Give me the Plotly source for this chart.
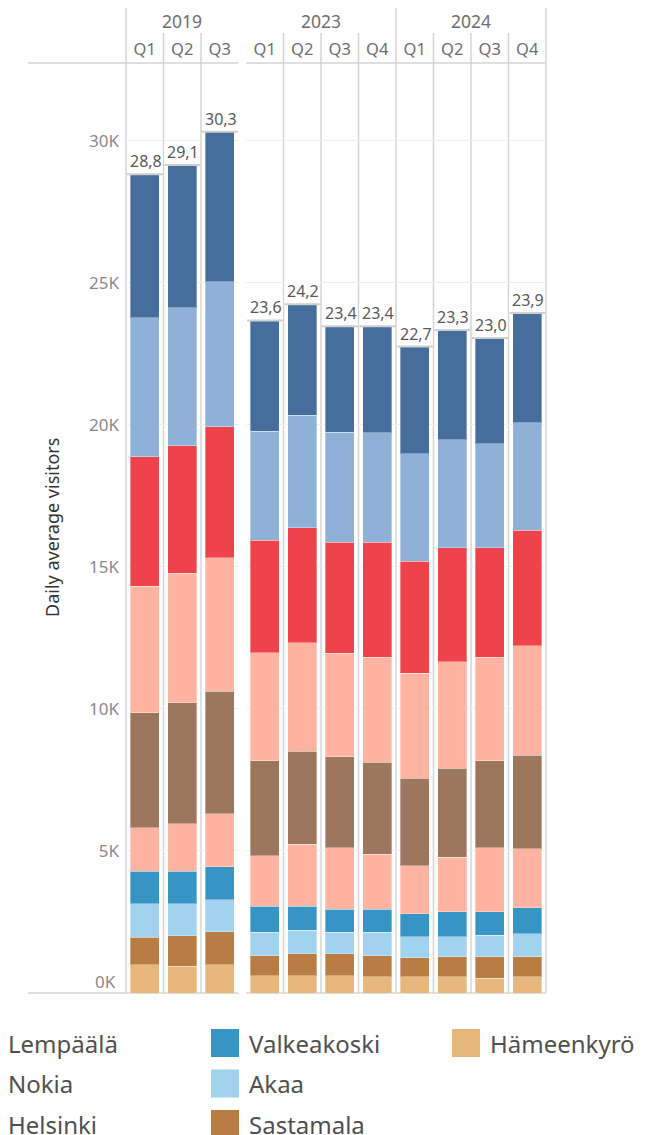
import plotly.graph_objects as go

# ---------------- data ----------------
period_year = ["2019", "2019", "2019", "2023", "2023", "2023", "2023", "2024", "2024", "2024", "2024"]
period_quarter = ["Q1", "Q2", "Q3", "Q1", "Q2", "Q3", "Q4", "Q1", "Q2", "Q3", "Q4"]
years = ["2019", "2023", "2024"]

# stacked from bottom to top (daily average visitors)
hameenkyro = [1003, 944, 1003, 616, 616, 616, 570, 570, 570, 521, 570]
sastamala = [962, 1070, 1162, 704, 764, 764, 750, 669, 715, 764, 715]
akaa = [1176, 1127, 1116, 821, 821, 761, 821, 750, 704, 750, 810]
valkeakoski = [1148, 1148, 1162, 905, 845, 810, 810, 810, 870, 824, 905]
helsinki = [1528, 1668, 1867, 1785, 2183, 2172, 1926, 1680, 1923, 2264, 2077]
nokia = [4049, 4261, 4306, 3345, 3285, 3194, 3250, 3084, 3133, 3053, 3296]
lempaala = [4457, 4553, 4707, 3802, 3816, 3647, 3696, 3697, 3757, 3647, 3852]
series_8 = [4557, 4506, 4613, 3955, 4060, 3909, 4050, 3944, 4003, 3852, 4060]
series_9 = [4894, 4849, 5105, 3848, 3955, 3873, 3852, 3781, 3803, 3662, 3802]
series_10 = [5056, 5024, 5279, 3899, 3905, 3734, 3755, 3775, 3862, 3723, 3853]

series_names = ["Hämeenkyrö", "Sastamala", "Akaa", "Valkeakoski", "Helsinki", "Nokia",
                "Lempäälä", "Ylöjärvi", "Kangasala", "Tampere"]
series_values = [hameenkyro, sastamala, akaa, valkeakoski, helsinki, nokia,
                 lempaala, series_8, series_9, series_10]

y_ticks = [0, 5000, 10000, 15000, 20000, 25000, 30000]
y_tick_labels = ["0K", "5K", "10K", "15K", "20K", "25K", "30K"]

# ---------------- styles ----------------
colors = ["#E8B77C", "#B97C42", "#A1D3EF", "#3795C5", "#FFB3A0", "#9C765D",
          "#FFB3A0", "#EF434B", "#8FB1D7", "#466E9C"]
FONT = "Noto Sans"
OFF = 8                      # page body margin
W, H = 646 - OFF, 1135 - OFF


def px_x(p):
    return (p - OFF) / W


def px_y(p):
    return 1 - (p - OFF) / H


pane_px = {"2019": (126, 238.5), "2023": (246, 396), "2024": (396, 546)}
axis_ids = {"2019": "x", "2023": "x2", "2024": "x3"}
PLOT_TOP, PLOT_BOTTOM = 63, 993
Y_MAX = 32745

fig = go.Figure()

for name, vals, col in zip(series_names, series_values, colors):
    for yr in years:
        idx = [i for i, y in enumerate(period_year) if y == yr]
        fig.add_trace(go.Bar(
            x=[period_quarter[i] for i in idx],
            y=[vals[i] for i in idx],
            name=name,
            xaxis=axis_ids[yr], yaxis="y",
            marker=dict(color=col, line=dict(color="rgba(255,255,255,0.35)", width=1)),
            showlegend=False,
            hovertemplate=name + " " + yr + " %{x}: %{y:,}<extra></extra>",
        ))

layout = dict(
    width=W, height=H,
    margin=dict(l=0, r=0, t=0, b=0),
    paper_bgcolor="white", plot_bgcolor="white",
    barmode="stack", bargap=0.23,
    font=dict(family=FONT, color="#666666"),
    showlegend=False,
    yaxis=dict(
        domain=[px_y(PLOT_BOTTOM), px_y(PLOT_TOP)],
        range=[0, Y_MAX], anchor="x",
        tickvals=y_ticks[1:], ticktext=y_tick_labels[1:],
        tickfont=dict(family=FONT, size=17, color="#8a8a8a"),
        showgrid=True, gridcolor="#efefef", gridwidth=1,
        zeroline=False, showline=False, ticks="",
        ticklabelstandoff=6, automargin=False, fixedrange=True,
    ),
)
for yr in years:
    a, b = pane_px[yr]
    key = "xaxis" if axis_ids[yr] == "x" else "xaxis" + axis_ids[yr][1:]
    layout[key] = dict(
        domain=[px_x(a), px_x(b)], anchor="y", type="category", side="top",
        showgrid=False, zeroline=False, showline=False, ticks="",
        tickfont=dict(family=FONT, size=16.5, color="#6e6e6e"),
        ticklabelstandoff=4, automargin=False, fixedrange=True,
    )
fig.update_layout(**layout)

shapes = []
annotations = []
LINE_C = "#d4d4d4"

# pane borders (header bottom and baseline)
for x0, x1 in [(28, 238.5), (246, 546)]:
    for yy in (PLOT_TOP, PLOT_BOTTOM):
        shapes.append(dict(type="line", xref="paper", yref="paper",
                           x0=px_x(x0), x1=px_x(x1), y0=px_y(yy), y1=px_y(yy),
                           line=dict(color=LINE_C, width=1.5), layer="below"))

# column dividers
for yr in years:
    a, b = pane_px[yr]
    n = period_year.count(yr)
    cw = (b - a) / n
    for i in range(n):
        if yr == "2023" and i == 0:
            continue
        top = OFF if i == 0 else 33
        xx = a + i * cw
        shapes.append(dict(type="line", xref="paper", yref="paper",
                           x0=px_x(xx), x1=px_x(xx), y0=px_y(top), y1=px_y(PLOT_BOTTOM),
                           line=dict(color=LINE_C, width=1.5), layer="below"))
    if yr == "2024":
        shapes.append(dict(type="line", xref="paper", yref="paper",
                           x0=px_x(b), x1=px_x(b), y0=px_y(OFF), y1=px_y(PLOT_BOTTOM),
                           line=dict(color=LINE_C, width=1.5), layer="below"))
    # year header
    annotations.append(dict(text=yr, xref=axis_ids[yr] + " domain", x=0.5, xanchor="center",
                            yref="paper", y=px_y(21.5), yanchor="middle", showarrow=False,
                            font=dict(family=FONT, size=17.5, color="#6e6e6e")))

# total labels
totals = [sum(v[i] for v in series_values) for i in range(len(period_year))]
for k, (yr, tot) in enumerate(zip(period_year, totals)):
    a, b = pane_px[yr]
    n = period_year.count(yr)
    cw = (b - a) / n
    j = k - period_year.index(yr)
    left = a + j * cw
    shapes.append(dict(type="rect", xref="paper", yref="y", ysizemode="pixel",
                       yanchor=tot, y0=0, y1=23, x0=px_x(left + 1), x1=px_x(left + cw - 1),
                       fillcolor="white", line=dict(width=0), layer="above"))
    shapes.append(dict(type="line", xref="paper", yref="y",
                       x0=px_x(left + 1), x1=px_x(left + cw - 0.5), y0=tot, y1=tot,
                       line=dict(color="#cfcfcf", width=2), layer="above"))
    annotations.append(dict(text=f"{tot:,}"[:4], xref="paper", x=px_x(left + 1.5),
                            xanchor="left", yref="y", y=tot, yanchor="middle", yshift=13,
                            showarrow=False,
                            font=dict(family=FONT, size=16, color="#595959")))

# zero tick label (pushed inside like the source)
annotations.append(dict(text=y_tick_labels[0], xref="paper", x=px_x(118.5), xanchor="right",
                        yref="y", y=y_ticks[0], yanchor="middle", yshift=12, showarrow=False,
                        font=dict(family=FONT, size=17, color="#8a8a8a")))

# axis title
annotations.append(dict(text="Daily average visitors", xref="paper", x=px_x(52), xanchor="center",
                        yref="paper", y=px_y((PLOT_TOP + PLOT_BOTTOM) / 2), yanchor="middle",
                        textangle=-90, showarrow=False,
                        font=dict(family=FONT, size=18, color="#333333")))

# legend (scrolled: first column out of view, second column's swatches cut)
legend_order = list(range(len(series_names)))[::-1]
for pos, s in enumerate(legend_order):
    c, r = pos // 3, pos % 3
    text_x = 8 + (c - 1) * 241
    sw_left = text_x - 38
    cy = 1043 + r * 40.5
    if text_x >= OFF:
        annotations.append(dict(text=series_names[s], xref="paper", x=px_x(text_x - 2),
                                xanchor="left", yref="paper", y=px_y(cy), yanchor="middle",
                                showarrow=False,
                                font=dict(family=FONT, size=24, color="#505050")))
    if sw_left >= OFF:
        shapes.append(dict(type="rect", xref="paper", yref="paper",
                           x0=px_x(sw_left), x1=px_x(sw_left + 28),
                           y0=px_y(cy - 14), y1=px_y(cy + 14),
                           fillcolor=colors[s], line=dict(width=0)))

fig.update_layout(shapes=shapes, annotations=annotations)
fig.write_html("out.html")
